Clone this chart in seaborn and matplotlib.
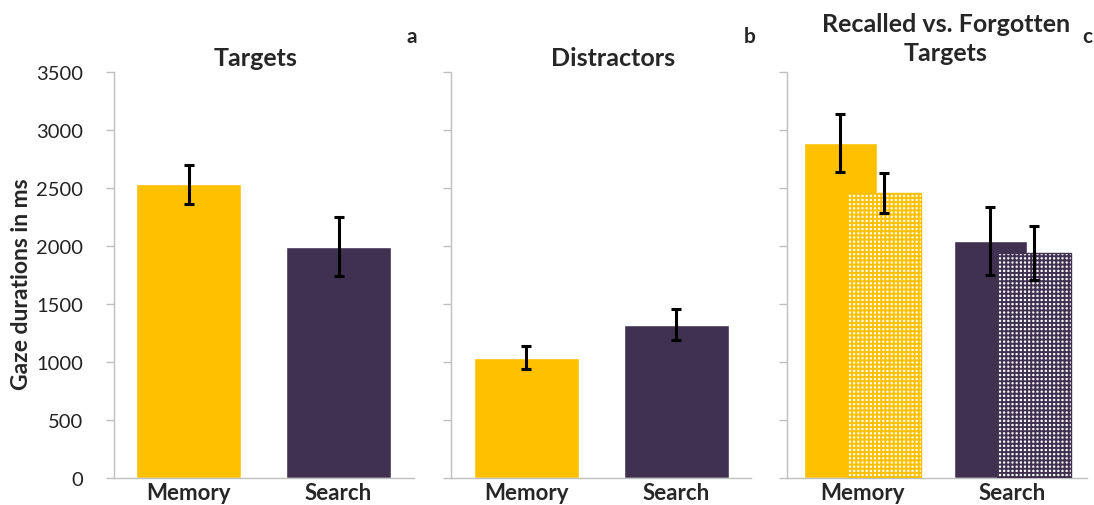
import numpy as np
import pandas as pd
import seaborn as sns
import matplotlib.pyplot as plt

tasks = ['Memory', 'Search']
target_means = [2530, 1990]
target_err = [170, 255]
distractor_means = [1035, 1320]
distractor_err = [98, 134]
recalled_means = [2883, 2040]
recalled_err = [250, 293]
forgotten_means = [2454, 1937]
forgotten_err = [176, 235]

YELLOW = '#FFC000'
PURPLE = '#403151'
GREY = '#BFBFBF'

sns.set_style('white')
plt.rcParams['font.family'] = ['Lato', 'DejaVu Sans']
plt.rcParams['hatch.linewidth'] = 1.4

W, H = 1094, 506
fig = plt.figure(figsize=(W / 100, H / 100), dpi=100)
bottom, height, width = 1 - 478.7 / H, 406 / H, 300 / W
ax_a = fig.add_axes([113.5 / W, bottom, width, height])
ax_b = fig.add_axes([451 / W, bottom, width, height])
ax_c = fig.add_axes([787 / W, bottom, width, height])


def style_axis(ax, show_labels):
    ax.set_ylim(0, 3500)
    ax.set_yticks(range(0, 3501, 500))
    ax.set_xlim(-0.5, 1.5)
    sns.despine(ax=ax)
    for s in ['left', 'bottom']:
        ax.spines[s].set_color(GREY)
        ax.spines[s].set_linewidth(1.0)
    ax.tick_params(axis='y', left=True, length=6, width=1, color=GREY,
                   labelsize=14.5, pad=16, labelleft=show_labels, labelcolor='#222222')
    ax.tick_params(axis='x', bottom=False, length=0, labelsize=16, pad=3)
    for lab in ax.get_xticklabels():
        lab.set_fontweight('bold')
    ax.set_xlabel('')
    ax.set_ylabel('')


def simple_panel(ax, means, errs):
    df = pd.DataFrame({'task': tasks, 'ms': means})
    sns.barplot(data=df, x='task', y='ms', hue='task', palette=[YELLOW, PURPLE],
                width=0.7, saturation=1, legend=False, ax=ax)
    ax.errorbar(np.arange(len(tasks)), means, yerr=errs, fmt='none', ecolor='black',
                elinewidth=2.2, capsize=3.5, capthick=2.2, zorder=5)


simple_panel(ax_a, target_means, target_err)
simple_panel(ax_b, distractor_means, distractor_err)

# panel c: recalled (solid) vs forgotten (checkered), overlapping bars
x = np.arange(len(tasks))
off, bw = 0.145, 0.49
ax_c.bar(x - off, recalled_means, width=bw, color=[YELLOW, PURPLE], zorder=2)
ax_c.bar(x + off, forgotten_means, width=bw, facecolor='white',
         edgecolor=[YELLOW, PURPLE], hatch='++++', linewidth=1, zorder=3)
ax_c.errorbar(x - off, recalled_means, yerr=recalled_err, fmt='none', ecolor='black',
              elinewidth=2.2, capsize=3.5, capthick=2.2, zorder=5)
ax_c.errorbar(x + off, forgotten_means, yerr=forgotten_err, fmt='none', ecolor='black',
              elinewidth=2.2, capsize=3.5, capthick=2.2, zorder=5)
ax_c.set_xticks(x, tasks)

style_axis(ax_a, True)
style_axis(ax_b, False)
style_axis(ax_c, False)

tkw = dict(fontsize=18, fontweight='bold', ha='center', va='center')
ax_a.text(0.472, 1.036, 'Targets', transform=ax_a.transAxes, **tkw)
ax_b.text(0.54, 1.036, 'Distractors', transform=ax_b.transAxes, **tkw)
ax_c.text(0.53, 1.083, 'Recalled vs. Forgotten\nTargets', transform=ax_c.transAxes,
          linespacing=1.3, **tkw)

lkw = dict(fontsize=15, fontweight='bold', ha='center', va='center')
fig.text(412 / W, 1 - 37 / H, 'a', **lkw)
fig.text(750 / W, 1 - 37 / H, 'b', **lkw)
fig.text(1087 / W, 1 - 37 / H, 'c', **lkw)

fig.text(22 / W, 1 - 284 / H, 'Gaze durations in ms', rotation=90,
         fontsize=16.5, fontweight='bold', ha='center', va='center')

fig.savefig('out.png', dpi=100)
